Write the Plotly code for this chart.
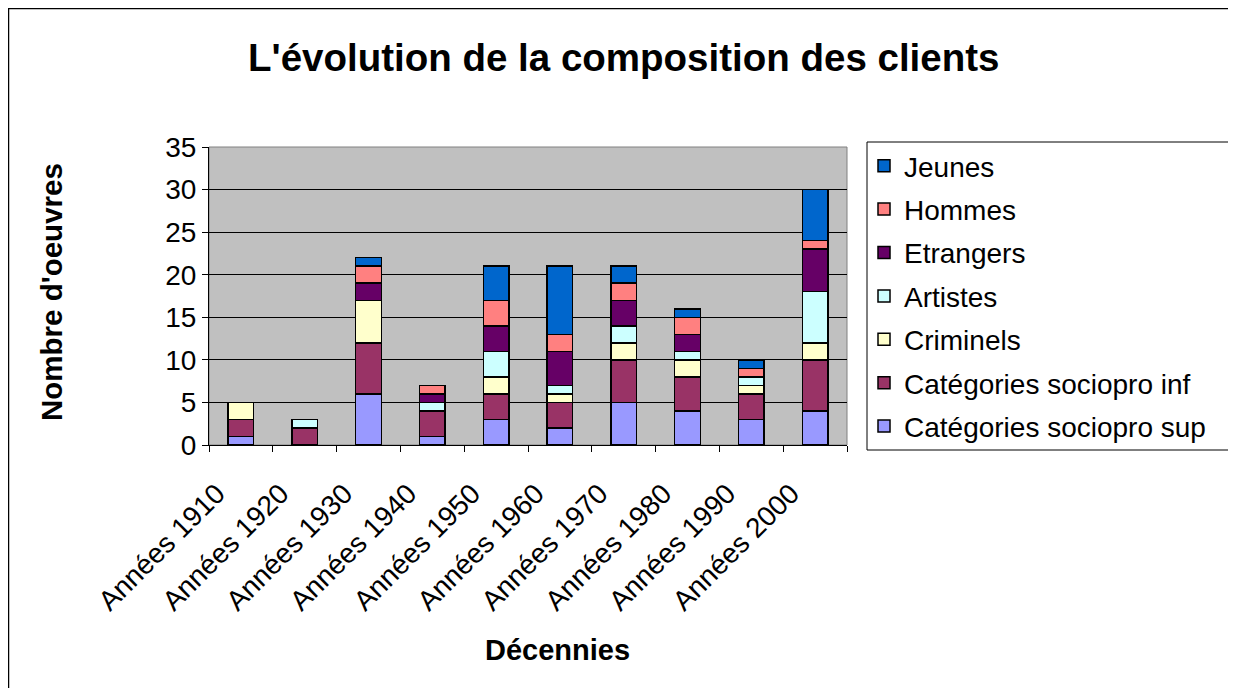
import plotly.graph_objects as go

decennies = ["Années 1910", "Années 1920", "Années 1930", "Années 1940", "Années 1950",
             "Années 1960", "Années 1970", "Années 1980", "Années 1990", "Années 2000"]

socio_sup = [1, 0, 6, 1, 3, 2, 5, 4, 3, 4]
socio_inf = [2, 2, 6, 3, 3, 3, 5, 4, 3, 6]
criminels = [2, 0, 5, 0, 2, 1, 2, 2, 1, 2]
artistes = [0, 1, 0, 1, 3, 1, 2, 1, 1, 6]
etrangers = [0, 0, 2, 1, 3, 4, 3, 2, 0, 5]
hommes = [0, 0, 2, 1, 3, 2, 2, 2, 1, 1]
jeunes = [0, 0, 1, 0, 4, 8, 2, 1, 1, 6]

series = [
    ("Catégories sociopro sup", socio_sup, "#9999FF"),
    ("Catégories sociopro inf", socio_inf, "#993366"),
    ("Criminels", criminels, "#FFFFCC"),
    ("Artistes", artistes, "#CCFFFF"),
    ("Etrangers", etrangers, "#660066"),
    ("Hommes", hommes, "#FF8080"),
    ("Jeunes", jeunes, "#0066CC"),
]

FONT = "Liberation Sans, Arial, sans-serif"

fig = go.Figure()
n = len(series)
for i, (name, vals, col) in enumerate(series):
    fig.add_trace(go.Bar(
        x=decennies, y=vals, name=name, legendgroup=name, legendrank=n - i,
        marker=dict(color=col, line=dict(color="black", width=1.5)),
    ))

OFF = 8  # page body margin
W, H = 1236 - OFF, 688 - OFF
L, R, T, B = 209 - OFF, 847 - OFF, 147 - OFF, 445 - OFF
pw, ph = R - L, B - T

def px(p):
    return (p - OFF - L) / pw

def py(p):
    return (B - (p - OFF)) / ph

fig.update_layout(
    width=W, height=H,
    margin=dict(l=L, r=W - R, t=T, b=H - B, autoexpand=False),
    barmode="stack", bargap=0.6,
    plot_bgcolor="#C0C0C0", paper_bgcolor="white",
    font=dict(family=FONT, color="black", size=28),
    showlegend=True,
    legend=dict(
        x=px(864), y=py(141), xanchor="left", yanchor="top",
        borderwidth=0, bgcolor="rgba(0,0,0,0)",
        font=dict(size=28, family=FONT),
        traceorder="grouped", tracegroupgap=4,
        itemclick=False,
    ),
    xaxis=dict(
        type="category", tickson="boundaries", ticks="outside", ticklen=6,
        tickcolor="black", tickangle=-45, showline=True, linecolor="black",
        linewidth=1, showgrid=False, tickfont=dict(size=28, family=FONT),
        ticklabelstandoff=20, ticklabelshift=-24,
    ),
    yaxis=dict(
        range=[0, 35], dtick=5, tick0=0, ticks="outside", ticklen=6,
        tickcolor="black", showline=True, linecolor="black", linewidth=1,
        showgrid=True, gridcolor="black", gridwidth=1,
        zeroline=False, tickfont=dict(size=28, family=FONT),
    ),
    annotations=[
        dict(text="<b>L'évolution de la composition des clients</b>",
             xref="paper", yref="paper", x=px(623), y=py(57),
             xanchor="center", yanchor="middle", showarrow=False,
             font=dict(size=38.5, family=FONT)),
        dict(text="<b>Nombre d'oeuvres</b>", xref="paper", yref="paper",
             x=px(51), y=py(292), xanchor="center", yanchor="middle",
             textangle=-90, showarrow=False, font=dict(size=29.5, family=FONT)),
        dict(text="<b>Décennies</b>", xref="paper", yref="paper",
             x=px(557), y=py(650), xanchor="center", yanchor="middle",
             showarrow=False, font=dict(size=29, family=FONT)),
    ],
    shapes=[
        dict(type="rect", xref="paper", yref="paper", x0=0, x1=1, y0=0, y1=1,
             line=dict(color="#808080", width=1), layer="below"),
        dict(type="rect", xref="paper", yref="paper", x0=px(867), x1=px(1229),
             y0=py(450), y1=py(142), line=dict(color="black", width=1)),
        dict(type="line", xref="paper", yref="paper", x0=px(8.5), x1=px(8.5),
             y0=py(8), y1=py(720), line=dict(color="black", width=1.5)),
        dict(type="line", xref="paper", yref="paper", x0=px(8), x1=px(1300),
             y0=py(8.5), y1=py(8.5), line=dict(color="black", width=1.5)),
    ],
)

fig.write_html("out.html")
